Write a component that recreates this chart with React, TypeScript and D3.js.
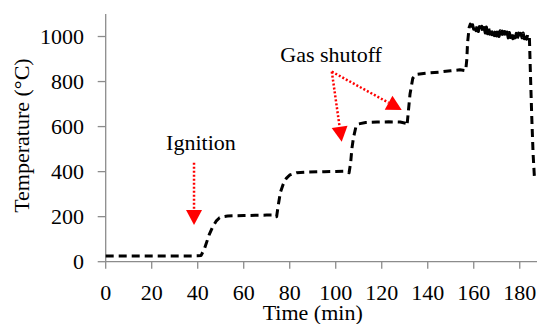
import React from "react";
import * as d3 from "d3";

const W = 537;
const H = 324;

const xTicks = [0, 20, 40, 60, 80, 100, 120, 140, 160, 180];
const yTicks = [0, 200, 400, 600, 800, 1000];

const times = [
  0, 10, 20, 30, 40, 41.5, 43, 45, 46.5, 48, 49.5, 51, 53, 56, 60, 65, 70, 73, 74.3,
  75, 76, 77.2, 78.5, 80, 83, 88, 95, 100, 104.5, 105.8,
  106.5, 107, 107.7, 108.8, 110, 113, 118, 123, 128, 130.5, 131,
  131.5, 132.3, 133.5, 135, 140, 145, 150, 154, 156.5,
  157, 157.3, 158, 158.5, 159, 159.5, 160, 160.5, 161, 161.5, 162, 162.5, 163, 163.5, 164, 164.5,
  165, 165.5, 166, 166.5, 167, 167.5, 168, 168.5, 169, 169.5, 170, 170.5, 171, 171.5, 172, 172.5,
  173, 173.5, 174, 174.5, 175, 175.5, 176, 176.5, 177, 177.5, 178, 178.5, 179, 179.5, 180, 180.5,
  181, 181.5, 182, 182.5, 183, 183.5, 184, 184.2,
  184.6, 185.2, 185.8, 186.4, 186.6,
];
const temps = [
  25, 25, 25, 25, 26, 28, 60, 120, 155, 180, 195, 200, 203, 204, 205, 206, 207, 207, 200,
  250, 310, 345, 370, 385, 395, 398, 400, 401, 402, 395,
  440, 500, 550, 600, 612, 618, 620, 621, 620, 615, 605,
  660, 745, 815, 832, 838, 842, 848, 852, 848,
  900, 970, 1040, 1055, 1030, 1052, 1032, 1050, 1026, 1048, 1022, 1044, 1024, 1046, 1018, 1040,
  1016, 1042, 1012, 1036, 1010, 1034, 1008, 1032, 1004, 1030, 1002, 1028, 1000, 1026, 1004, 1024,
  996, 1022, 998, 1020, 994, 1018, 996, 1020, 990, 1016, 994, 1014, 990, 1016, 992, 1014,
  994, 1016, 990, 1012, 988, 1010, 996, 995,
  850, 650, 480, 370, 360,
];

// annotations in data coordinates
const ignition = { label: "Ignition", tx: 41.4, ty: 496, from: [38.4, 439], to: [[38.4, 163]] };
const gas = { label: "Gas shutoff", tx: 98, ty: 888, from: [98.3, 844], to: [[102.6, 533], [128.7, 674]] };

const font = "Liberation Serif";
const txt: React.CSSProperties = { fontFamily: "'Liberation Serif', serif", fontSize: "22px" };

export default function App() {
  const x = d3.scaleLinear().domain([0, 187.5]).range([105.7, 537]);
  const y = d3.scaleLinear().domain([0, 1100]).range([261.7, 14]);

  const data = times.map((t, i) => [t, temps[i]] as [number, number]);
  const line = d3
    .line<[number, number]>()
    .x((d) => x(d[0]))
    .y((d) => y(d[1]));

  const arrow = (from: number[], to: number[], key: string) => {
    const x1 = x(from[0]);
    const y1 = y(from[1]);
    const x2 = x(to[0]);
    const y2 = y(to[1]);
    const dx = x2 - x1;
    const dy = y2 - y1;
    const len = Math.sqrt(dx * dx + dy * dy);
    const ux = dx / len;
    const uy = dy / len;
    const hl = 15;
    const hw = 8;
    const bx = x2 - ux * hl;
    const by = y2 - uy * hl;
    const pts = [
      [x2, y2],
      [bx - uy * hw, by + ux * hw],
      [bx + uy * hw, by - ux * hw],
    ];
    return (
      <g key={key}>
        <line x1={x1} y1={y1} x2={bx} y2={by} stroke="#ff0000" strokeWidth={2.5} strokeDasharray="2,2" />
        <polygon points={pts.map((p) => p.join(",")).join(" ")} fill="#ff0000" />
      </g>
    );
  };

  const axisColor = "#8c8c8c";

  return (
    <svg
      width={W}
      height={H}
      fontFamily={font}
      style={{ position: "absolute", left: 0, top: 0, background: "#fff", fontFamily: "'Liberation Serif', serif" }}
    >
      {/* y axis */}
      <line x1={x(0)} x2={x(0)} y1={y(1100)} y2={y(0)} stroke={axisColor} strokeWidth={1.3} />
      {yTicks.map((t) => (
        <g key={"y" + t}>
          <line x1={x(0) - 8} x2={x(0)} y1={y(t)} y2={y(t)} stroke={axisColor} strokeWidth={1.3} />
          <text x={84} y={y(t) + 7.5} textAnchor="end" style={txt} fill="#000">
            {t}
          </text>
        </g>
      ))}
      {/* x axis */}
      <line x1={x(0)} x2={x(187.5)} y1={y(0)} y2={y(0)} stroke={axisColor} strokeWidth={1.3} />
      {xTicks.map((t) => (
        <g key={"x" + t}>
          <line x1={x(t)} x2={x(t)} y1={y(0)} y2={y(0) + 7} stroke={axisColor} strokeWidth={1.3} />
          <text x={x(t)} y={300} textAnchor="middle" style={txt} fill="#000">
            {t}
          </text>
        </g>
      ))}
      <text x={x(90)} y={320} textAnchor="middle" style={txt} fill="#000">
        Time (min)
      </text>
      <text transform={`translate(28.5,${y(560)}) rotate(-90)`} textAnchor="middle" style={txt} fill="#000">
        Temperature (°C)
      </text>

      {/* data */}
      <path
        d={line(data) || ""}
        fill="none"
        stroke="#000"
        strokeWidth={3}
        strokeDasharray="8,5"
        strokeLinejoin="round"
      />

      {/* annotations */}
      <text x={x(ignition.tx)} y={y(ignition.ty)} textAnchor="middle" style={txt} fill="#000">
        {ignition.label}
      </text>
      {ignition.to.map((t, i) => arrow(ignition.from, t, "ig" + i))}
      <text x={x(gas.tx)} y={y(gas.ty)} textAnchor="middle" style={txt} fill="#000">
        {gas.label}
      </text>
      {gas.to.map((t, i) => arrow(gas.from, t, "gas" + i))}
    </svg>
  );
}
